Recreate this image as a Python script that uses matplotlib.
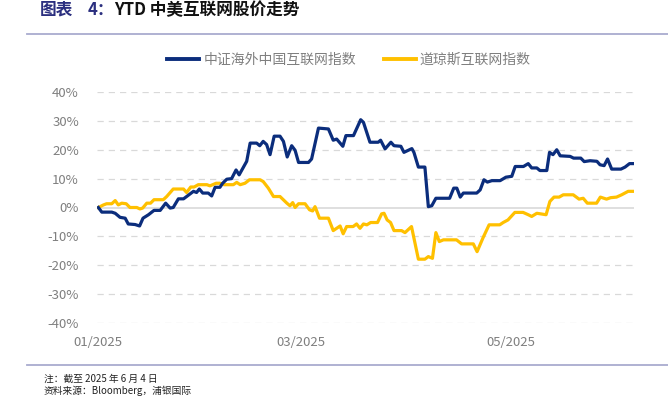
import numpy as np
import pandas as pd
import matplotlib
matplotlib.use('Agg')
from matplotlib import pyplot as plt
import matplotlib.dates as mdates
from matplotlib.lines import Line2D

plt.rcParams['font.family'] = ['Noto Sans CJK SC', 'DejaVu Sans']

start = pd.Timestamp('2025-01-01')

# 中证海外中国互联网指数 (days since 01/01, YTD %)
cn_days = [0, 1, 3.9, 4.9, 6.3, 7.8, 8.7, 10.7, 12, 13, 14.6, 16.2, 18, 19.6, 20.9, 21.8,
           23.3, 24.8, 25.7, 27.7, 28.6, 29.4, 30.4, 32, 33, 34, 35.4, 36.2, 37.4, 38.8,
           40.1, 41, 43.2, 44.2, 46.1, 47, 48, 49, 50, 51.2, 52.9, 53.9, 55, 56.3, 57.3,
           58.3, 61.2, 62.1, 64.1, 67, 68.4, 69.4, 71.2, 72.1, 74.3, 76.4, 77.2, 79.1,
           81.5, 82.2, 83.5, 85.2, 86.1, 88.1, 89, 91.3, 91.9, 93.2, 95.1, 96.1, 97.1,
           98.3, 102.3, 103.5, 104.4, 105.4, 106.3, 110.2, 111.2, 112.3, 113.3, 114.6,
           117, 118.7, 120.4, 121.4, 123.8, 125.2, 126.2, 127.7, 128.6, 130.6, 131.4,
           132.4, 133.5, 134.5, 137.4, 138.4, 140.5, 141.5, 143.2, 145.2, 146.1, 147.3,
           148.3, 149.5, 152.2, 153.4, 154.7, 155.8]
cn_vals = [0, -1.6, -1.6, -2.0, -3.4, -3.7, -5.7, -5.9, -6.4, -3.7, -2.5, -1.0, -1.0, 1.5,
           -0.2, 0, 3.0, 3.0, 3.8, 5.6, 5.2, 6.4, 5.0, 5.0, 4.0, 7.0, 7.0, 8.4, 9.8, 10.0,
           13.0, 11.3, 16.0, 22.3, 22.3, 21.4, 22.9, 21.8, 18.3, 24.7, 24.7, 22.9, 17.5,
           21.4, 19.8, 15.6, 15.6, 16.8, 27.5, 27.2, 23.3, 23.7, 21.2, 24.9, 24.9, 30.4,
           29.5, 22.6, 22.6, 23.3, 20.3, 22.6, 21.4, 21.2, 19.1, 20.4, 19.1, 14.0, 14.0,
           0.3, 0.6, 3.2, 3.2, 6.7, 6.7, 3.6, 5.0, 5.0, 6.1, 9.6, 8.8, 9.3, 9.3, 10.5,
           10.8, 14.2, 14.2, 15.2, 13.7, 13.7, 12.8, 12.8, 19.1, 18.3, 20.0, 17.9, 17.7,
           17.1, 17.1, 15.9, 16.2, 16.0, 14.8, 14.5, 16.8, 13.3, 13.3, 14.0, 15.2, 15.2]

# 道琼斯互联网指数
us_days = [0, 1.5, 2.4, 3.9, 4.9, 5.8, 6.8, 8.1, 9.2, 11.2, 12.1, 12.9, 14.1, 15.2, 16.2,
           18.9, 19.9, 21.8, 24.8, 25.7, 26.9, 27.9, 29.1, 31.6, 32.5, 34.3, 35.4, 36.6,
           39.3, 40.3, 41.3, 42.7, 44, 47.1, 48, 49.5, 51, 52.9, 54.9, 55.8, 56.6, 57.3,
           58.3, 60.2, 61.5, 62.4, 63.1, 64.4, 67, 68.4, 69.4, 70.4, 71.3, 72.3, 74.2,
           75.2, 76.2, 77.2, 78.2, 79.3, 81.3, 82.5, 83.2, 84.1, 85.1, 86.1, 88.3, 89.3,
           91.2, 93.2, 95.1, 96.1, 97.3, 98.3, 99.3, 100.5, 104.3, 105.8, 109.2, 110.3,
           112.1, 113.8, 116.9, 117.9, 119.3, 121.3, 123.7, 125.2, 126.2, 127.7, 130.4,
           131.5, 132.7, 134.2, 135.4, 138.3, 140, 141.2, 142.4, 145.1, 146.2, 148, 149.2,
           150.9, 152.4, 154.3, 155.8]
us_vals = [0, 0.9, 1.3, 1.3, 2.4, 0.9, 1.5, 1.3, 0, 0, -0.5, -0.2, 1.5, 1.5, 2.7, 2.7, 3.8,
           6.4, 6.4, 5.2, 7.1, 7.1, 7.9, 7.9, 7.5, 8.4, 8.4, 7.9, 7.9, 8.7, 7.9, 8.4, 9.6,
           9.6, 9.0, 6.7, 3.8, 3.8, 1.5, 0.6, 1.7, 0, 1.3, 1.3, -0.8, -1.2, 0.3, -3.7, -3.7,
           -8.0, -7.2, -6.4, -9.1, -6.6, -6.6, -5.7, -7.2, -5.7, -6.0, -5.2, -5.2, -2.2,
           -2.0, -4.3, -5.2, -8.0, -8.0, -8.7, -6.6, -17.9, -17.9, -17.0, -17.6, -8.7,
           -11.8, -11.2, -11.2, -12.6, -12.6, -15.3, -10.3, -6.0, -6.0, -5.2, -4.3, -1.7,
           -1.7, -2.5, -3.1, -2.0, -2.5, 2.1, 3.6, 3.6, 4.4, 4.4, 2.9, 3.2, 1.5, 1.5, 3.6,
           2.9, 3.4, 3.6, 4.4, 5.6, 5.6]

names = ['中证海外中国互联网指数', '道琼斯互联网指数']
colors = ['#0B2D7C', '#FFC000']

cn_x = start + pd.to_timedelta(cn_days, unit='D')
us_x = start + pd.to_timedelta(us_days, unit='D')

fig = plt.figure(figsize=(6.68, 3.98), dpi=100)
ax = fig.add_axes([97 / 668, 1 - 323 / 398, (634 - 97) / 668, (323 - 92) / 398])

for y in range(-40, 41, 10):
    if y == 0:
        ax.axhline(0, color='#D9D9D9', lw=1.2, zorder=1)
    else:
        ax.axhline(y, color='#D9D9D9', lw=0.9, ls=(0, (5, 4)), zorder=1)

ax.plot(cn_x, cn_vals, color=colors[0], lw=2.3, zorder=3, solid_joinstyle='round')
ax.plot(us_x, us_vals, color=colors[1], lw=2.3, zorder=2, solid_joinstyle='round')

ax.set_ylim(-40, 40)
ax.set_yticks(range(-40, 41, 10))
ax.set_yticklabels(['%d%%' % v for v in range(-40, 41, 10)])
ax.set_xlim(start - pd.Timedelta(days=0.4), start + pd.Timedelta(days=156))
ax.xaxis.set_major_locator(mdates.MonthLocator(bymonth=[1, 3, 5]))
ax.xaxis.set_major_formatter(mdates.DateFormatter('%m/%Y'))
ax.tick_params(length=0, labelsize=9.5, colors='#7F7F7F')
ax.tick_params(axis='y', pad=13)
ax.tick_params(axis='x', pad=9)
for s in ax.spines.values():
    s.set_visible(False)

# title
ty = 1 - 10 / 398
fig.text(40 / 668, ty, '图表', fontsize=12, fontweight='bold',
         color='#2B2F7F', va='center', ha='left')
fig.text(88 / 668, ty, '4：', fontsize=12, fontweight='bold',
         color='#2B2F7F', va='center', ha='left')
fig.text(114 / 668, ty, 'YTD 中美互联网股价走势', fontsize=12, fontweight='bold',
         color='#111111', va='center', ha='left')
fig.add_artist(Line2D([27 / 668, 1], [1 - 34 / 398] * 2, color='#A9ABCF', lw=1.3))
fig.add_artist(Line2D([27 / 668, 1], [1 - 365 / 398] * 2, color='#A9ABCF', lw=1.3))

# legend
handles = [Line2D([], [], color=c, lw=2.8) for c in colors]
leg = fig.legend(handles, names, loc='center', bbox_to_anchor=(349 / 668, 1 - 60 / 398),
                 ncol=2, frameon=False, fontsize=10, handlelength=2.3, handletextpad=0.3,
                 columnspacing=2.0)
for t in leg.get_texts():
    t.set_color('#7F7F7F')

# notes
fig.text(44 / 668, 1 - 379 / 398, '注：截至 2025 年 6 月 4 日', fontsize=7,
         color='#222222', va='center', ha='left')
fig.text(44 / 668, 1 - 391 / 398, '资料来源：Bloomberg，浦银国际', fontsize=7,
         color='#222222', va='center', ha='left')

fig.savefig('out.png', dpi=100)
